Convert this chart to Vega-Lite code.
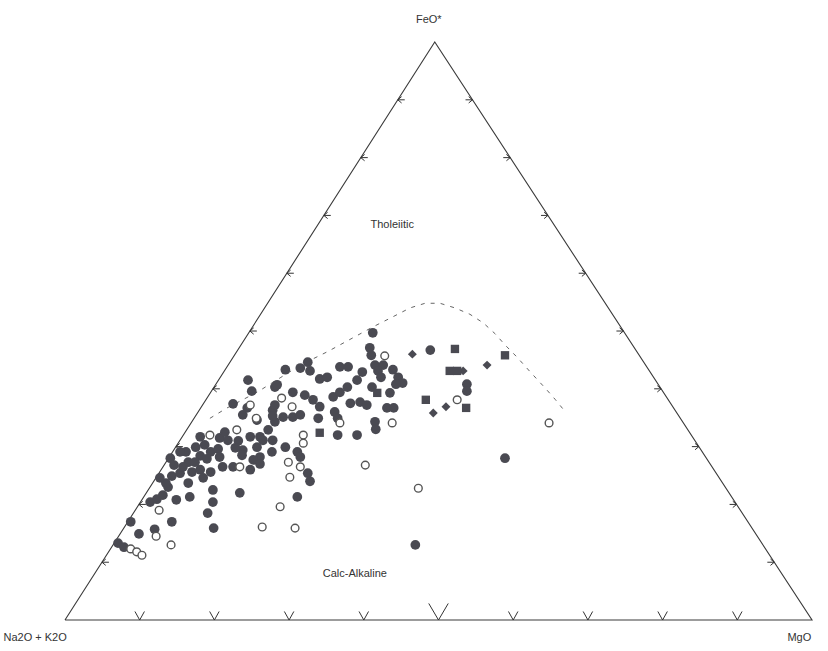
{
  "$schema": "https://vega.github.io/schema/vega-lite/v6.json",
  "width": 828,
  "height": 651,
  "padding": 0,
  "autosize": {"type": "none"},
  "background": "white",
  "config": {"view": {"stroke": null}},
  "encoding": {
    "x": {"field": "x", "type": "quantitative", "scale": {"domain": [-8.70, 102.14], "nice": false, "zero": false}, "axis": null},
    "y": {"field": "y", "type": "quantitative", "scale": {"domain": [-5.36, 107.27], "nice": false, "zero": false}, "axis": null}
  },
  "layer": [
    {
      "data": {"values": [
        {"x": 0, "y": 0, "o": 1}, {"x": 100, "y": 0, "o": 2}, {"x": 49.5, "y": 100, "o": 3}, {"x": 0, "y": 0, "o": 4}
      ]},
      "mark": {"type": "line", "color": "#3a3a3a", "strokeWidth": 1.1},
      "encoding": {"order": {"field": "o", "type": "quantitative"}}
    },
    {
      "data": {"values": [
        {"x": 19.4, "y": 34.9, "o": 1}, {"x": 21.7, "y": 36.7, "o": 2}, {"x": 25.7, "y": 39.4, "o": 3},
        {"x": 28.8, "y": 41.9, "o": 4}, {"x": 31.5, "y": 44.1, "o": 5}, {"x": 35.1, "y": 46.4, "o": 6},
        {"x": 37.8, "y": 48.3, "o": 7}, {"x": 41.2, "y": 50.7, "o": 8}, {"x": 43.5, "y": 52.2, "o": 9},
        {"x": 46.2, "y": 54.0, "o": 10}, {"x": 48.2, "y": 54.8, "o": 11}, {"x": 50.2, "y": 54.8, "o": 12},
        {"x": 52.2, "y": 54.0, "o": 13}, {"x": 54.2, "y": 52.9, "o": 14}, {"x": 56.0, "y": 51.4, "o": 15},
        {"x": 57.6, "y": 49.5, "o": 16}, {"x": 58.9, "y": 47.6, "o": 17}, {"x": 60.5, "y": 45.5, "o": 18},
        {"x": 62.3, "y": 42.9, "o": 19}, {"x": 64.3, "y": 40.1, "o": 20}, {"x": 65.6, "y": 38.2, "o": 21},
        {"x": 66.8, "y": 36.3, "o": 22}
      ]},
      "mark": {"type": "line", "color": "#666666", "strokeWidth": 1, "strokeDash": [4, 6]},
      "encoding": {"order": {"field": "o", "type": "quantitative"}}
    },
    {
      "data": {"values": [
        {"x": 10, "y": 0}, {"x": 20, "y": 0}, {"x": 30, "y": 0}, {"x": 40, "y": 0},
        {"x": 60, "y": 0}, {"x": 70, "y": 0}, {"x": 80, "y": 0}, {"x": 90, "y": 0}
      ]},
      "mark": {"type": "point", "shape": "M-1,-1.8L0,0L1,-1.8", "filled": false, "size": 90, "color": "#333333", "strokeWidth": 1, "opacity": 1}
    },
    {
      "data": {"values": [{"x": 50, "y": 0}]},
      "mark": {"type": "point", "shape": "M-1,-1.7L0,0L1,-1.7", "filled": false, "size": 380, "color": "#333333", "strokeWidth": 1, "opacity": 1}
    },
    {
      "data": {"values": [
        {"x": 4.95, "y": 10}, {"x": 9.9, "y": 20}, {"x": 14.85, "y": 30}, {"x": 19.8, "y": 40},
        {"x": 24.75, "y": 50}, {"x": 29.7, "y": 60}, {"x": 34.65, "y": 70}, {"x": 39.6, "y": 80}, {"x": 44.55, "y": 90}
      ]},
      "mark": {"type": "point", "shape": "M1.2,-1L0,0L1.2,1M0,0L2.2,0", "filled": false, "size": 40, "color": "#333333", "strokeWidth": 1, "opacity": 1}
    },
    {
      "data": {"values": [
        {"x": 94.95, "y": 10}, {"x": 89.9, "y": 20}, {"x": 84.85, "y": 30}, {"x": 79.8, "y": 40},
        {"x": 74.75, "y": 50}, {"x": 69.7, "y": 60}, {"x": 64.65, "y": 70}, {"x": 59.6, "y": 80}, {"x": 54.55, "y": 90}
      ]},
      "mark": {"type": "point", "shape": "M-1.2,-1L0,0L-1.2,1M0,0L-2.2,0", "filled": false, "size": 40, "color": "#333333", "strokeWidth": 1, "opacity": 1}
    },
    {
      "data": {"values": [
        {"x": 7.1, "y": 13.3}, {"x": 7.9, "y": 12.6}, {"x": 8.8, "y": 17.0}, {"x": 9.9, "y": 14.9},
        {"x": 12.0, "y": 15.7}, {"x": 14.3, "y": 17.0}, {"x": 11.4, "y": 20.4}, {"x": 12.3, "y": 20.9},
        {"x": 13.1, "y": 21.6}, {"x": 13.8, "y": 23.0}, {"x": 14.3, "y": 24.9}, {"x": 14.9, "y": 20.8},
        {"x": 13.5, "y": 23.7}, {"x": 14.1, "y": 28.0}, {"x": 14.6, "y": 26.8}, {"x": 16.2, "y": 29.1},
        {"x": 17.0, "y": 25.6}, {"x": 18.1, "y": 26.0}, {"x": 18.5, "y": 24.6}, {"x": 16.5, "y": 23.7},
        {"x": 17.5, "y": 29.9}, {"x": 18.7, "y": 30.3}, {"x": 19.5, "y": 29.1}, {"x": 20.5, "y": 29.6},
        {"x": 18.1, "y": 28.4}, {"x": 19.5, "y": 25.6}, {"x": 19.8, "y": 22.5}, {"x": 19.8, "y": 20.4},
        {"x": 19.1, "y": 18.5}, {"x": 19.9, "y": 15.9}, {"x": 16.7, "y": 21.3}, {"x": 15.4, "y": 29.1},
        {"x": 18.1, "y": 31.7}, {"x": 20.7, "y": 31.5}, {"x": 21.8, "y": 31.1}, {"x": 23.2, "y": 31.0},
        {"x": 24.8, "y": 31.7}, {"x": 26.1, "y": 31.7}, {"x": 25.7, "y": 29.9}, {"x": 26.1, "y": 28.2},
        {"x": 23.8, "y": 29.4}, {"x": 22.8, "y": 29.8}, {"x": 23.7, "y": 28.5}, {"x": 19.0, "y": 27.9},
        {"x": 20.7, "y": 28.2}, {"x": 21.1, "y": 26.5}, {"x": 22.5, "y": 26.5}, {"x": 23.4, "y": 22.0},
        {"x": 27.8, "y": 31.1}, {"x": 27.7, "y": 29.1}, {"x": 25.2, "y": 27.7}, {"x": 26.1, "y": 27.0},
        {"x": 24.8, "y": 26.0}, {"x": 15.4, "y": 25.4}, {"x": 24.5, "y": 41.5}, {"x": 25.0, "y": 39.6},
        {"x": 22.5, "y": 37.4}, {"x": 23.8, "y": 35.5}, {"x": 25.7, "y": 34.6}, {"x": 24.4, "y": 36.7},
        {"x": 28.1, "y": 40.3}, {"x": 27.8, "y": 36.3}, {"x": 28.1, "y": 34.3}, {"x": 29.5, "y": 43.3},
        {"x": 31.5, "y": 43.6}, {"x": 32.5, "y": 44.6}, {"x": 32.8, "y": 43.1}, {"x": 34.1, "y": 41.7},
        {"x": 35.1, "y": 42.0}, {"x": 36.8, "y": 43.8}, {"x": 37.9, "y": 43.8}, {"x": 39.1, "y": 41.5},
        {"x": 41.2, "y": 49.7}, {"x": 40.8, "y": 47.1}, {"x": 41.0, "y": 45.8}, {"x": 41.5, "y": 44.1},
        {"x": 42.6, "y": 44.1}, {"x": 41.9, "y": 43.1}, {"x": 42.3, "y": 42.0}, {"x": 43.9, "y": 43.3},
        {"x": 44.6, "y": 42.0}, {"x": 45.2, "y": 41.0}, {"x": 44.3, "y": 40.8}, {"x": 41.1, "y": 40.3},
        {"x": 43.5, "y": 39.3}, {"x": 43.1, "y": 36.7}, {"x": 44.0, "y": 36.7}, {"x": 41.5, "y": 34.3},
        {"x": 41.6, "y": 33.0}, {"x": 28.4, "y": 40.7}, {"x": 30.5, "y": 39.4}, {"x": 32.1, "y": 38.9},
        {"x": 33.2, "y": 38.1}, {"x": 34.1, "y": 36.9}, {"x": 33.9, "y": 34.9}, {"x": 28.1, "y": 37.2},
        {"x": 27.8, "y": 35.3}, {"x": 29.2, "y": 35.1}, {"x": 30.5, "y": 35.1}, {"x": 31.5, "y": 35.5},
        {"x": 35.9, "y": 38.6}, {"x": 36.8, "y": 39.4}, {"x": 37.8, "y": 40.3}, {"x": 38.2, "y": 37.5},
        {"x": 39.5, "y": 37.7}, {"x": 36.1, "y": 36.0}, {"x": 36.5, "y": 34.9}, {"x": 40.4, "y": 37.2},
        {"x": 36.5, "y": 32.0}, {"x": 39.1, "y": 32.0}, {"x": 29.5, "y": 29.9}, {"x": 31.1, "y": 29.1},
        {"x": 31.5, "y": 28.2}, {"x": 26.5, "y": 31.1}, {"x": 32.5, "y": 25.4}, {"x": 32.8, "y": 24.0},
        {"x": 31.1, "y": 21.3}, {"x": 48.9, "y": 46.7}, {"x": 53.8, "y": 40.8}, {"x": 53.8, "y": 39.6},
        {"x": 58.9, "y": 28.0}, {"x": 46.9, "y": 13.0}, {"x": 21.4, "y": 32.5}, {"x": 16.5, "y": 27.3},
        {"x": 17.4, "y": 27.3}, {"x": 15.8, "y": 26.5}, {"x": 12.7, "y": 24.6}, {"x": 27.2, "y": 32.9},
        {"x": 39.8, "y": 42.9}
      ]},
      "mark": {"type": "point", "shape": "circle", "filled": true, "size": 95, "color": "#4a4a52", "opacity": 1}
    },
    {
      "data": {"values": [
        {"x": 8.8, "y": 12.3}, {"x": 9.6, "y": 11.8}, {"x": 10.3, "y": 11.2}, {"x": 12.2, "y": 14.5},
        {"x": 14.2, "y": 13.0}, {"x": 12.6, "y": 19.0}, {"x": 19.4, "y": 32.0}, {"x": 23.0, "y": 32.9},
        {"x": 23.4, "y": 26.5}, {"x": 24.8, "y": 37.2}, {"x": 25.6, "y": 34.9}, {"x": 29.0, "y": 38.4},
        {"x": 30.4, "y": 36.9}, {"x": 31.9, "y": 32.0}, {"x": 31.9, "y": 30.6}, {"x": 29.9, "y": 27.3},
        {"x": 31.5, "y": 26.5}, {"x": 30.1, "y": 24.7}, {"x": 28.8, "y": 19.6}, {"x": 26.4, "y": 16.1},
        {"x": 30.8, "y": 15.9}, {"x": 36.8, "y": 34.1}, {"x": 42.8, "y": 45.7}, {"x": 43.8, "y": 34.1},
        {"x": 40.2, "y": 26.8}, {"x": 47.3, "y": 22.8}, {"x": 52.5, "y": 38.1}, {"x": 64.8, "y": 34.1}
      ]},
      "mark": {"type": "point", "shape": "circle", "filled": true, "size": 60, "fill": "#ffffff", "stroke": "#555555", "strokeWidth": 1.4, "opacity": 1}
    },
    {
      "data": {"values": [
        {"x": 46.5, "y": 46.0}, {"x": 56.5, "y": 44.1}, {"x": 53.3, "y": 43.1}, {"x": 51.0, "y": 36.9}, {"x": 49.3, "y": 35.8}
      ]},
      "mark": {"type": "point", "shape": "diamond", "filled": true, "size": 80, "color": "#4a4a52", "opacity": 1}
    },
    {
      "data": {"values": [
        {"x": 52.2, "y": 46.9}, {"x": 58.9, "y": 45.8}, {"x": 51.5, "y": 43.1}, {"x": 52.5, "y": 43.1},
        {"x": 48.3, "y": 38.1}, {"x": 53.7, "y": 36.7}, {"x": 41.8, "y": 39.3}, {"x": 34.1, "y": 32.4}
      ]},
      "mark": {"type": "point", "shape": "square", "filled": true, "size": 70, "color": "#4a4a52", "opacity": 1}
    },
    {
      "data": {"values": [
        {"label": "FeO*", "x": 48.7, "y": 103.8},
        {"label": "Tholeiitic", "x": 43.8, "y": 68.3},
        {"label": "Calc-Alkaline", "x": 38.8, "y": 8.0},
        {"label": "Na2O + K2O", "x": -4.0, "y": -3.1},
        {"label": "MgO", "x": 98.3, "y": -3.1}
      ]},
      "mark": {"type": "text", "font": "Liberation Sans", "fontSize": 11, "color": "#333333", "align": "center", "baseline": "middle"},
      "encoding": {"text": {"field": "label", "type": "nominal"}}
    }
  ]
}
